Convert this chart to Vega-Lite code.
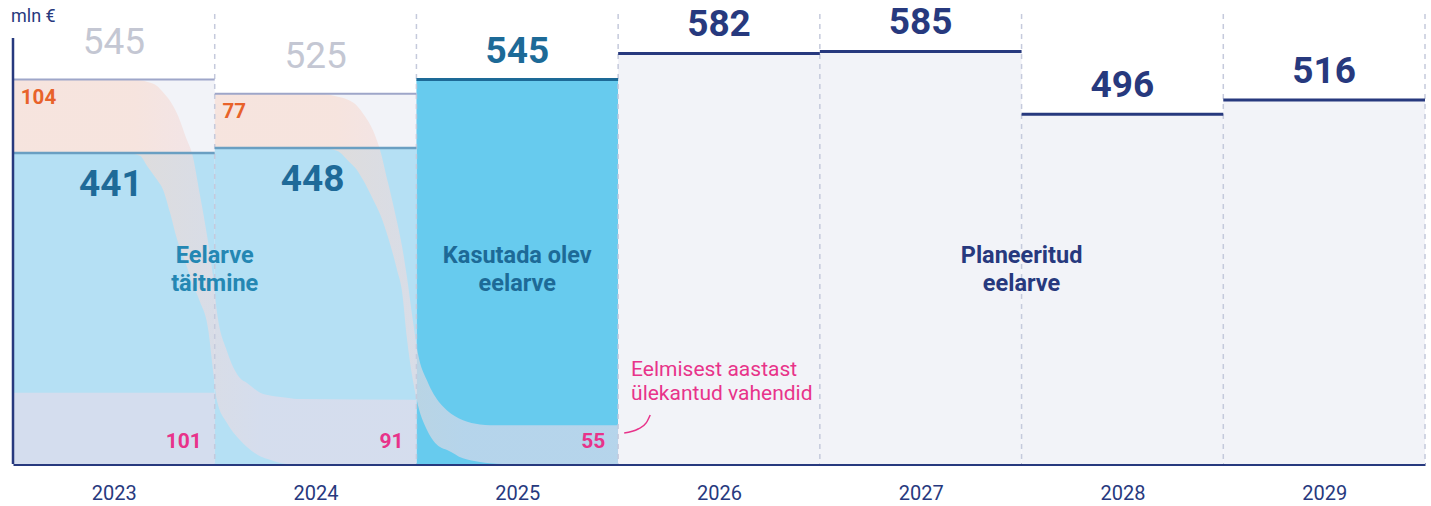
{
  "$schema": "https://vega.github.io/schema/vega-lite/v6.json",
  "width": 1412,
  "height": 450,
  "autosize": {"type": "none"},
  "padding": {"left": 13, "top": 14, "right": 6, "bottom": 42},
  "background": "white",
  "config": {
    "view": {"stroke": null},
    "font": "Roboto",
    "text": {"font": "Roboto"},
    "scale": {"continuousPadding": 0},
    "axisX": {"title": null, "grid": false, "ticks": false, "tickSize": 0, "labelPadding": 19, "labelFontSize": 20,
      "labelFont": "Roboto", "labelColor": "#27397e", "domain": true, "domainColor": "#27397e", "domainWidth": 3, "labelFlush": false}
  },
  "resolve": {"scale": {"color": "independent"}},
  "datasets": {
    "years": [
      {"year": 2023, "status": "täitmine", "total": 545, "executed": 441, "carried_over": 104, "incoming": 101},
      {"year": 2024, "status": "täitmine", "total": 525, "executed": 448, "carried_over": 77, "incoming": 91},
      {"year": 2025, "status": "kasutada", "total": 545, "executed": null, "carried_over": null, "incoming": 55},
      {"year": 2026, "status": "planeeritud", "total": 582, "executed": null, "carried_over": null, "incoming": null},
      {"year": 2027, "status": "planeeritud", "total": 585, "executed": null, "carried_over": null, "incoming": null},
      {"year": 2028, "status": "planeeritud", "total": 496, "executed": null, "carried_over": null, "incoming": null},
      {"year": 2029, "status": "planeeritud", "total": 516, "executed": null, "carried_over": null, "incoming": null}
    ],
    "flows": [
      {"flow": "2023-2024", "x": 2022.5, "upper": 545, "lower": 441},
      {"flow": "2023-2024", "x": 2022.981, "upper": 545, "lower": 441},
      {"flow": "2023-2024", "x": 2023.08, "upper": 545, "lower": 440},
      {"flow": "2023-2024", "x": 2023.13, "upper": 544, "lower": 437},
      {"flow": "2023-2024", "x": 2023.164, "upper": 542, "lower": 423},
      {"flow": "2023-2024", "x": 2023.214, "upper": 536, "lower": 403},
      {"flow": "2023-2024", "x": 2023.244, "upper": 527, "lower": 389},
      {"flow": "2023-2024", "x": 2023.278, "upper": 515, "lower": 357},
      {"flow": "2023-2024", "x": 2023.313, "upper": 497, "lower": 319},
      {"flow": "2023-2024", "x": 2023.363, "upper": 459, "lower": 279},
      {"flow": "2023-2024", "x": 2023.387, "upper": 441, "lower": 258},
      {"flow": "2023-2024", "x": 2023.427, "upper": 381, "lower": 230},
      {"flow": "2023-2024", "x": 2023.467, "upper": 315, "lower": 192},
      {"flow": "2023-2024", "x": 2023.492, "upper": 265, "lower": 132},
      {"flow": "2023-2024", "x": 2023.511, "upper": 216, "lower": 90},
      {"flow": "2023-2024", "x": 2023.561, "upper": 160, "lower": 58},
      {"flow": "2023-2024", "x": 2023.625, "upper": 122, "lower": 34},
      {"flow": "2023-2024", "x": 2023.66, "upper": 115, "lower": 24},
      {"flow": "2023-2024", "x": 2023.725, "upper": 101, "lower": 11},
      {"flow": "2023-2024", "x": 2023.774, "upper": 97, "lower": 6},
      {"flow": "2023-2024", "x": 2023.858, "upper": 94, "lower": 0},
      {"flow": "2023-2024", "x": 2023.923, "upper": 92, "lower": 0},
      {"flow": "2023-2024", "x": 2024.5, "upper": 91, "lower": 0},
      {"flow": "2024-2025", "x": 2023.5, "upper": 525, "lower": 448},
      {"flow": "2024-2025", "x": 2024.022, "upper": 525, "lower": 448},
      {"flow": "2024-2025", "x": 2024.106, "upper": 521, "lower": 444},
      {"flow": "2024-2025", "x": 2024.171, "upper": 515, "lower": 427},
      {"flow": "2024-2025", "x": 2024.205, "upper": 508, "lower": 417},
      {"flow": "2024-2025", "x": 2024.235, "upper": 497, "lower": 403},
      {"flow": "2024-2025", "x": 2024.285, "upper": 473, "lower": 375},
      {"flow": "2024-2025", "x": 2024.32, "upper": 445, "lower": 354},
      {"flow": "2024-2025", "x": 2024.359, "upper": 399, "lower": 322},
      {"flow": "2024-2025", "x": 2024.404, "upper": 343, "lower": 275},
      {"flow": "2024-2025", "x": 2024.429, "upper": 308, "lower": 244},
      {"flow": "2024-2025", "x": 2024.453, "upper": 265, "lower": 178},
      {"flow": "2024-2025", "x": 2024.483, "upper": 202, "lower": 118},
      {"flow": "2024-2025", "x": 2024.508, "upper": 156, "lower": 83},
      {"flow": "2024-2025", "x": 2024.553, "upper": 118, "lower": 48},
      {"flow": "2024-2025", "x": 2024.617, "upper": 86, "lower": 24},
      {"flow": "2024-2025", "x": 2024.652, "upper": 76, "lower": 20},
      {"flow": "2024-2025", "x": 2024.731, "upper": 62, "lower": 8},
      {"flow": "2024-2025", "x": 2024.815, "upper": 56, "lower": 3},
      {"flow": "2024-2025", "x": 2024.865, "upper": 55, "lower": 1},
      {"flow": "2024-2025", "x": 2024.929, "upper": 55, "lower": 0},
      {"flow": "2024-2025", "x": 2025.5, "upper": 55, "lower": 0}
    ],
    "boundaries": [
      {"boundary": 2023.5}, {"boundary": 2024.5}, {"boundary": 2025.5}, {"boundary": 2026.5},
      {"boundary": 2027.5}, {"boundary": 2028.5}, {"boundary": 2029.5}
    ],
    "regions": [
      {"label": "Eelarve\ntäitmine", "group": "täitmine", "x": 2023.5, "y": 295},
      {"label": "Kasutada olev\neelarve", "group": "kasutada", "x": 2025, "y": 295},
      {"label": "Planeeritud\neelarve", "group": "planeeritud", "x": 2027.5, "y": 295}
    ],
    "note": [
      {"label": "Eelmisest aastast\nülekantud vahendid", "x": 2025.564, "y": 133}
    ],
    "leader": [
      {"x": 2025.53, "y": 44},
      {"x": 2025.599, "y": 49.6},
      {"x": 2025.639, "y": 58.2},
      {"x": 2025.659, "y": 69.5}
    ]
  },
  "layer": [
    {
      "data": {"name": "years"},
      "mark": {"type": "bar", "width": 201.7},
      "encoding": {
        "x": {"field": "year", "type": "quantitative", "title": null, "scale": {"domain": [2022.5, 2029.5], "nice": false, "zero": false, "padding": 0},
          "axis": {"values": [2023, 2024, 2025, 2026, 2027, 2028, 2029], "format": "d"}},
        "y": {"field": "total", "type": "quantitative", "stack": null, "scale": {"domain": [0, 638], "nice": false, "padding": 0}, "axis": null},
        "color": {"field": "status", "type": "nominal", "legend": null,
          "scale": {"domain": ["täitmine", "kasutada", "planeeritud"], "range": ["#f2f3f8", "#67cbee", "#f2f3f8"]}}
      }
    },
    {
      "data": {"name": "years"},
      "transform": [{"filter": "datum.executed != null"}],
      "mark": {"type": "bar", "width": 201.7, "color": "#b5e0f4"},
      "encoding": {
        "x": {"field": "year", "type": "quantitative", "title": null, "scale": {"domain": [2022.5, 2029.5], "nice": false, "zero": false, "padding": 0}},
        "y": {"field": "executed", "type": "quantitative", "stack": null, "scale": {"domain": [0, 638], "nice": false, "padding": 0}, "axis": null}
      }
    },
    {
      "data": {"name": "years"},
      "transform": [{"filter": "datum.year == 2023"}],
      "mark": {"type": "bar", "width": 201.7, "color": "#eadbe9", "opacity": 0.6},
      "encoding": {
        "x": {"field": "year", "type": "quantitative", "title": null, "scale": {"domain": [2022.5, 2029.5], "nice": false, "zero": false, "padding": 0}},
        "y": {"field": "incoming", "type": "quantitative", "stack": null, "scale": {"domain": [0, 638], "nice": false, "padding": 0}, "axis": null}
      }
    },
    {
      "data": {"name": "flows"},
      "mark": {"type": "area", "interpolate": "monotone", "opacity": 0.6,
        "color": {"gradient": "linear", "x1": 0, "y1": 0, "x2": 1, "y2": 0,
          "stops": [{"offset": 0, "color": "#f9dacd"}, {"offset": 0.3, "color": "#f9dacd"}, {"offset": 0.62, "color": "#eadbe9"}, {"offset": 1, "color": "#eadbe9"}]}},
      "encoding": {
        "x": {"field": "x", "type": "quantitative", "title": null, "scale": {"domain": [2022.5, 2029.5], "nice": false, "zero": false, "padding": 0}},
        "y": {"field": "upper", "type": "quantitative", "stack": null, "scale": {"domain": [0, 638], "nice": false, "padding": 0}, "axis": null},
        "y2": {"field": "lower"},
        "detail": {"field": "flow", "type": "nominal"}
      }
    },
    {
      "data": {"name": "boundaries"},
      "mark": {"type": "rule", "color": "#c5cadc", "strokeDash": [5, 5], "strokeWidth": 1.5},
      "encoding": {
        "x": {"field": "boundary", "type": "quantitative", "title": null, "scale": {"domain": [2022.5, 2029.5], "nice": false, "zero": false, "padding": 0}}
      }
    },
    {
      "data": {"name": "years"},
      "transform": [{"filter": "datum.status == 'täitmine'"}],
      "mark": {"type": "tick", "orient": "horizontal", "size": 201.7, "thickness": 2, "color": "#9ea6c9", "opacity": 1},
      "encoding": {
        "x": {"field": "year", "type": "quantitative", "title": null, "scale": {"domain": [2022.5, 2029.5], "nice": false, "zero": false, "padding": 0}},
        "y": {"field": "total", "type": "quantitative", "scale": {"domain": [0, 638], "nice": false, "padding": 0}, "axis": null}
      }
    },
    {
      "data": {"name": "years"},
      "transform": [{"filter": "datum.status != 'täitmine'"}],
      "mark": {"type": "tick", "orient": "horizontal", "size": 201.7, "thickness": 3, "opacity": 1},
      "encoding": {
        "x": {"field": "year", "type": "quantitative", "title": null, "scale": {"domain": [2022.5, 2029.5], "nice": false, "zero": false, "padding": 0}},
        "y": {"field": "total", "type": "quantitative", "scale": {"domain": [0, 638], "nice": false, "padding": 0}, "axis": null},
        "color": {"field": "status", "type": "nominal", "legend": null,
          "scale": {"domain": ["kasutada", "planeeritud"], "range": ["#1d6a97", "#27397e"]}}
      }
    },
    {
      "data": {"name": "years"},
      "transform": [{"filter": "datum.executed != null"}],
      "mark": {"type": "tick", "orient": "horizontal", "size": 201.7, "thickness": 2.5, "color": "#6a9fc2", "opacity": 1},
      "encoding": {
        "x": {"field": "year", "type": "quantitative", "title": null, "scale": {"domain": [2022.5, 2029.5], "nice": false, "zero": false, "padding": 0}},
        "y": {"field": "executed", "type": "quantitative", "scale": {"domain": [0, 638], "nice": false, "padding": 0}, "axis": null}
      }
    },
    {
      "data": {"values": [{}]},
      "mark": {"type": "rule", "color": "#27397e", "strokeWidth": 2.5},
      "encoding": {
        "x": {"datum": 2022.5, "type": "quantitative", "title": null, "scale": {"domain": [2022.5, 2029.5], "nice": false, "zero": false, "padding": 0}},
        "y": {"datum": 0, "type": "quantitative", "scale": {"domain": [0, 638], "nice": false, "padding": 0}, "axis": null},
        "y2": {"datum": 604}
      }
    },
    {
      "data": {"name": "years"},
      "transform": [{"filter": "datum.status == 'täitmine'"}],
      "mark": {"type": "text", "fontSize": 37, "fontWeight": "normal", "color": "#c4c7d3", "baseline": "middle", "align": "center", "dy": -37},
      "encoding": {
        "x": {"field": "year", "type": "quantitative", "title": null, "scale": {"domain": [2022.5, 2029.5], "nice": false, "zero": false, "padding": 0}},
        "y": {"field": "total", "type": "quantitative", "scale": {"domain": [0, 638], "nice": false, "padding": 0}, "axis": null},
        "text": {"field": "total", "type": "quantitative"}
      }
    },
    {
      "data": {"name": "years"},
      "transform": [{"filter": "datum.status != 'täitmine'"}],
      "mark": {"type": "text", "fontSize": 37, "fontWeight": "bold", "baseline": "middle", "align": "center", "dy": -28},
      "encoding": {
        "x": {"field": "year", "type": "quantitative", "title": null, "scale": {"domain": [2022.5, 2029.5], "nice": false, "zero": false, "padding": 0}},
        "y": {"field": "total", "type": "quantitative", "scale": {"domain": [0, 638], "nice": false, "padding": 0}, "axis": null},
        "text": {"field": "total", "type": "quantitative"},
        "color": {"field": "status", "type": "nominal", "legend": null,
          "scale": {"domain": ["kasutada", "planeeritud"], "range": ["#1d6a97", "#27397e"]}}
      }
    },
    {
      "data": {"name": "years"},
      "transform": [{"filter": "datum.executed != null"}],
      "mark": {"type": "text", "fontSize": 37, "fontWeight": "bold", "color": "#1e6a98", "baseline": "middle", "align": "center", "dy": 32, "dx": -3},
      "encoding": {
        "x": {"field": "year", "type": "quantitative", "title": null, "scale": {"domain": [2022.5, 2029.5], "nice": false, "zero": false, "padding": 0}},
        "y": {"field": "executed", "type": "quantitative", "scale": {"domain": [0, 638], "nice": false, "padding": 0}, "axis": null},
        "text": {"field": "executed", "type": "quantitative"}
      }
    },
    {
      "data": {"name": "years"},
      "transform": [{"filter": "datum.carried_over != null"}],
      "mark": {"type": "text", "fontSize": 20.5, "fontWeight": "bold", "color": "#e8622a", "baseline": "middle", "align": "left", "dx": -93, "dy": 18},
      "encoding": {
        "x": {"field": "year", "type": "quantitative", "title": null, "scale": {"domain": [2022.5, 2029.5], "nice": false, "zero": false, "padding": 0}},
        "y": {"field": "total", "type": "quantitative", "scale": {"domain": [0, 638], "nice": false, "padding": 0}, "axis": null},
        "text": {"field": "carried_over", "type": "quantitative"}
      }
    },
    {
      "data": {"name": "years"},
      "transform": [{"filter": "datum.incoming != null"}],
      "mark": {"type": "text", "fontSize": 21, "fontWeight": "bold", "color": "#e8338a", "baseline": "middle", "align": "right", "dx": 88, "dy": -22},
      "encoding": {
        "x": {"field": "year", "type": "quantitative", "title": null, "scale": {"domain": [2022.5, 2029.5], "nice": false, "zero": false, "padding": 0}},
        "y": {"datum": 0, "type": "quantitative", "scale": {"domain": [0, 638], "nice": false, "padding": 0}, "axis": null},
        "text": {"field": "incoming", "type": "quantitative"}
      }
    },
    {
      "data": {"name": "regions"},
      "mark": {"type": "text", "fontSize": 23.5, "fontWeight": "bold", "baseline": "middle", "align": "center", "lineBreak": "\n", "lineHeight": 28},
      "encoding": {
        "x": {"field": "x", "type": "quantitative", "title": null, "scale": {"domain": [2022.5, 2029.5], "nice": false, "zero": false, "padding": 0}},
        "y": {"field": "y", "type": "quantitative", "scale": {"domain": [0, 638], "nice": false, "padding": 0}, "axis": null},
        "text": {"field": "label", "type": "nominal"},
        "color": {"field": "group", "type": "nominal", "legend": null,
          "scale": {"domain": ["täitmine", "kasutada", "planeeritud"], "range": ["#2487b3", "#1d6a97", "#27397e"]}}
      }
    },
    {
      "data": {"name": "note"},
      "mark": {"type": "text", "fontSize": 21, "fontWeight": "normal", "color": "#e8338a", "baseline": "middle", "align": "left", "lineBreak": "\n", "lineHeight": 24},
      "encoding": {
        "x": {"field": "x", "type": "quantitative", "title": null, "scale": {"domain": [2022.5, 2029.5], "nice": false, "zero": false, "padding": 0}},
        "y": {"field": "y", "type": "quantitative", "scale": {"domain": [0, 638], "nice": false, "padding": 0}, "axis": null},
        "text": {"field": "label", "type": "nominal"}
      }
    },
    {
      "data": {"name": "leader"},
      "mark": {"type": "line", "interpolate": "monotone", "color": "#e8338a", "strokeWidth": 1.5},
      "encoding": {
        "x": {"field": "x", "type": "quantitative", "title": null, "scale": {"domain": [2022.5, 2029.5], "nice": false, "zero": false, "padding": 0}},
        "y": {"field": "y", "type": "quantitative", "scale": {"domain": [0, 638], "nice": false, "padding": 0}, "axis": null}
      }
    },
    {
      "data": {"values": [{"unit": "mln €"}]},
      "mark": {"type": "text", "fontSize": 18, "color": "#27397e", "baseline": "middle", "align": "left", "dx": -2},
      "encoding": {
        "x": {"datum": 2022.5, "type": "quantitative", "title": null, "scale": {"domain": [2022.5, 2029.5], "nice": false, "zero": false, "padding": 0}},
        "y": {"datum": 634, "type": "quantitative", "scale": {"domain": [0, 638], "nice": false, "padding": 0}, "axis": null},
        "text": {"field": "unit", "type": "nominal"}
      }
    }
  ]
}
